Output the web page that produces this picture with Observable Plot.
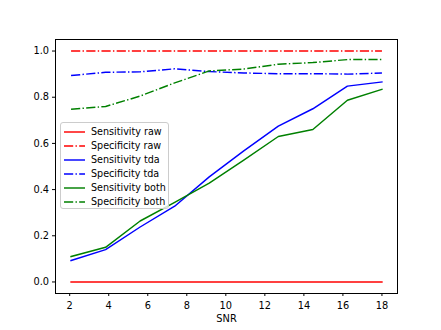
<!DOCTYPE html>
<html><head><meta charset="utf-8">
<script src="https://cdn.jsdelivr.net/npm/d3@7"></script>
<script src="https://cdn.jsdelivr.net/npm/@observablehq/plot@0.6"></script>
<style>
body{margin:0;background:#fff;font-family:"DejaVu Sans",sans-serif;}
#wrap{position:relative;width:441px;height:330px;}
#legend{position:absolute;left:60px;top:122px;width:109px;height:87px;border:1px solid #cccccc;border-radius:3px;background:rgba(255,255,255,0.8);box-sizing:border-box;font-size:9.6px;color:#000;}
#legend .row{position:absolute;left:0;height:14px;width:108px;}
#legend svg{position:absolute;left:2px;top:0;}
#legend span{position:absolute;left:30px;top:1px;line-height:12px;white-space:nowrap;}
</style></head><body><div id="wrap"></div>
<script>
const snr = [2.07, 3.84, 5.61, 7.38, 9.15, 10.92, 12.69, 14.46, 16.23, 18.0];
const sensitivityRaw = [0, 0, 0, 0, 0, 0, 0, 0, 0, 0];
const specificityRaw = [1, 1, 1, 1, 1, 1, 1, 1, 1, 1];
const sensitivityTda = [0.093, 0.140, 0.238, 0.328, 0.455, 0.568, 0.675, 0.750, 0.848, 0.866];
const specificityTda = [0.894, 0.908, 0.910, 0.923, 0.911, 0.905, 0.902, 0.902, 0.900, 0.905];
const sensitivityBoth = [0.110, 0.150, 0.264, 0.345, 0.428, 0.528, 0.630, 0.660, 0.787, 0.834];
const specificityBoth = [0.748, 0.760, 0.805, 0.862, 0.914, 0.922, 0.943, 0.950, 0.963, 0.963];
const seriesNames = ["Sensitivity raw", "Specificity raw", "Sensitivity tda", "Specificity tda", "Sensitivity both", "Specificity both"];
const xTicks = [2, 4, 6, 8, 10, 12, 14, 16, 18];
const yTicks = [0, 0.2, 0.4, 0.6, 0.8, 1.0];

const seriesValues = [sensitivityRaw, specificityRaw, sensitivityTda, specificityTda, sensitivityBoth, specificityBoth];
const colors = ["#ff0000", "#ff0000", "#0000ff", "#0000ff", "#008000", "#008000"];
const dash = "9.2,2.3,1.4,2.3";
const isDash = [false, true, false, true, false, true];

const lineMarks = seriesValues.map((vals, i) =>
  Plot.line(snr.map((x, j) => ({x, y: vals[j]})), {
    x: "x", y: "y", stroke: colors[i], strokeWidth: 1.45,
    strokeDasharray: isDash[i] ? dash : null,
    strokeLinecap: isDash[i] ? "butt" : "square", strokeLinejoin: "round"
  })
);

const chart = Plot.plot({
  width: 441, height: 330,
  marginLeft: 55, marginRight: 44, marginTop: 39, marginBottom: 37,
  style: {fontFamily: "DejaVu Sans, sans-serif", fontSize: "9.8px", background: "white", color: "black"},
  x: {domain: [1.273, 18.797]},
  y: {domain: [-0.05, 1.05]},
  marks: [
    ...lineMarks,
    Plot.frame({stroke: "black", strokeWidth: 1}),
    Plot.axisX({ticks: xTicks, tickSize: 3, tickPadding: 6, tickFormat: d3.format("d"), label: "SNR", labelAnchor: "center", labelArrow: "none", labelOffset: 28}),
    Plot.axisY({ticks: yTicks, tickSize: 3, tickPadding: 3.5, tickFormat: d3.format(".1f"), label: null})
  ]
});
const wrap = document.getElementById("wrap");
wrap.appendChild(chart);

const legend = document.createElement("div");
legend.id = "legend";
seriesNames.forEach((name, i) => {
  const row = document.createElement("div");
  row.className = "row";
  row.style.top = (1.7 + 14.1 * i) + "px";
  row.innerHTML = `<svg width="24" height="14"><line x1="1" x2="22" y1="7" y2="7" stroke="${colors[i]}" stroke-width="1.45" ${isDash[i] ? `stroke-dasharray="${dash}"` : ""}/></svg><span>${name}</span>`;
  legend.appendChild(row);
});
wrap.appendChild(legend);
</script>
</body></html>
